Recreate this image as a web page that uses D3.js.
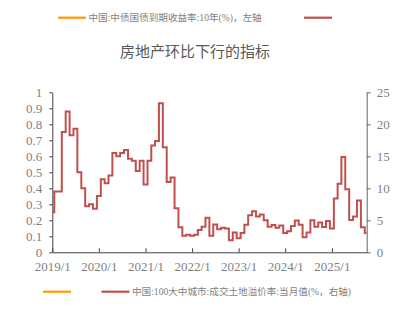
<!DOCTYPE html>
<html><head><meta charset="utf-8">
<script src="https://cdn.jsdelivr.net/npm/d3@7"></script>
<style>
html,body{margin:0;padding:0;background:#fff;}
svg{display:block;}
text{font-family:"Liberation Serif","Noto Sans CJK SC",serif;}
</style></head>
<body>
<svg id="c" width="405" height="312"></svg>
<script>
// ---- data ----
const title = "房地产环比下行的指标";
const seriesYieldName = "中国:中债国债到期收益率:10年(%)，左轴";
const seriesPremiumName = "中国:100大中城市:成交土地溢价率:当月值(%，右轴)";
const years = [2019, 2020, 2021, 2022, 2023, 2024, 2025];
// 100 large & medium cities land premium rate, monthly (%), right axis
const premium2019 = [6.25, 9.5, 9.5, 18.8, 22.0, 18.3, 19.3, 12.5, 10.0, 7.2, 7.5, 6.8];
const premium2020 = [8.8, 11.4, 10.8, 12.0, 15.5, 15.0, 15.5, 16.0, 14.6, 14.3, 12.7, 14.3];
const premium2021 = [10.6, 14.3, 16.7, 17.4, 23.3, 16.4, 11.0, 11.7, 6.9, 3.9, 2.6, 2.75];
const premium2022 = [2.6, 2.75, 3.5, 4.0, 5.4, 2.6, 4.35, 3.6, 3.85, 3.7, 1.9, 3.1];
const premium2023 = [2.2, 3.0, 4.3, 5.8, 6.4, 5.6, 5.9, 5.0, 4.0, 4.25, 3.85, 4.2];
const premium2024 = [3.0, 3.3, 4.1, 4.95, 4.3, 2.35, 3.1, 5.0, 4.0, 4.65, 3.95, 4.9];
const premium2025 = [3.7, 8.4, 10.7, 14.9, 9.85, 5.05, 5.6, 8.1, 3.9, 3.0];
const leftTicks = [0, 0.1, 0.2, 0.3, 0.4, 0.5, 0.6, 0.7, 0.8, 0.9, 1];
const rightTicks = [0, 5, 10, 15, 20, 25];
const xTickLabels = ["2019/1", "2020/1", "2021/1", "2022/1", "2023/1", "2024/1", "2025/1"];
const xStart = "2019-01-01", xEnd = "2025-10-01";

const premiumByYear = [premium2019, premium2020, premium2021, premium2022, premium2023, premium2024, premium2025];
const data = [];
years.forEach((y, i) => premiumByYear[i].forEach((v, m) => data.push({date: new Date(y, m, 1), value: v})));

// ---- layout ----
const svg = d3.select("#c");
const L = 52.3, R = 366.7, T = 92.3, B = 252.3;
const x = d3.scaleTime().domain([new Date(xStart), new Date(xEnd)]).range([L, R]);
const yL = d3.scaleLinear().domain([0, 1]).range([B, T]);
const yR = d3.scaleLinear().domain([0, 25]).range([B, T]);
const textColor = "#7f7f7f";

svg.append("text").attr("x", 195).attr("y", 57).attr("text-anchor", "middle")
  .attr("font-size", 15).attr("fill", "#595959").text(title);

// legend
function legendLine(x1, yy, color) {
  svg.append("line").attr("x1", x1).attr("x2", x1 + 28).attr("y1", yy).attr("y2", yy)
    .attr("stroke", color).attr("stroke-width", 2.2);
}
const orange = "#FF9900", red = "#C0504D";
legendLine(58, 17.7, orange);
svg.append("text").attr("x", 88.5).attr("y", 21).attr("font-size", 9.6).attr("fill", textColor).text(seriesYieldName);
legendLine(304, 17.7, red);
legendLine(43, 291.7, orange);
legendLine(101.5, 291.7, red);
svg.append("text").attr("x", 132).attr("y", 295).attr("font-size", 9.6).attr("fill", textColor).text(seriesPremiumName);

// axes
const gL = svg.append("g").attr("transform", `translate(${L},0)`)
  .call(d3.axisLeft(yL).tickValues(leftTicks).tickFormat(d3.format("~g")).tickSize(3).tickSizeOuter(0).tickPadding(7));
const gR = svg.append("g").attr("transform", `translate(${R},0)`)
  .call(d3.axisRight(yR).tickValues(rightTicks).tickSize(4).tickSizeOuter(0).tickPadding(6));
const xTicks = xTickLabels.map(s => { const [yy, mm] = s.split("/"); return new Date(+yy, +mm - 1, 1); });
const gB = svg.append("g").attr("transform", `translate(0,${B})`)
  .call(d3.axisBottom(x).tickValues(xTicks).tickFormat((d, i) => xTickLabels[i]).tickSize(-4).tickSizeOuter(0).tickPadding(9));

[gL, gB].forEach(g => { g.select(".domain").attr("stroke", "#404040"); g.selectAll(".tick line").attr("stroke", "#404040"); });
gR.select(".domain").attr("stroke", "#666"); gR.selectAll(".tick line").attr("stroke", "#666");
[gL, gR, gB].forEach(g => g.selectAll("text").attr("font-size", 13).attr("fill", textColor)
  .attr("font-family", "'Liberation Serif',serif"));

// clip & line
svg.append("clipPath").attr("id", "clip").append("rect").attr("x", L).attr("y", T - 5).attr("width", R - L).attr("height", B - T + 5);
const line = d3.line().x(d => x(d.date)).y(d => yR(d.value)).curve(d3.curveStep);
svg.append("path").datum(data).attr("clip-path", "url(#clip)").attr("d", line)
  .attr("fill", "none").attr("stroke", red).attr("stroke-width", 2).attr("stroke-linejoin", "miter");
</script>
</body></html>
